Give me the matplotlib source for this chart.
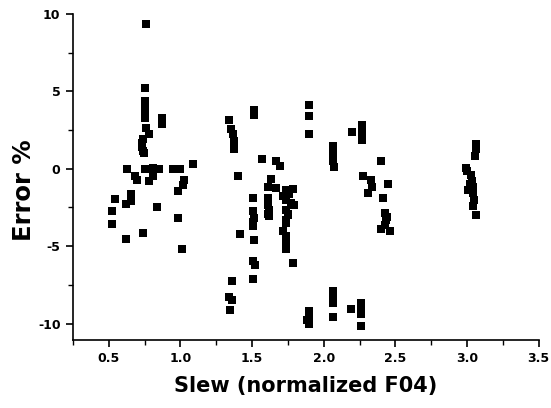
import matplotlib
matplotlib.use("Agg")
import matplotlib.pyplot as plt
from matplotlib.ticker import MultipleLocator

plt.rcParams['font.family'] = ['DejaVu Sans']

slew = [
    # ~0.5-1.1
    0.757, 0.75, 0.75, 0.75, 0.752, 0.752, 0.759, 0.78,
    0.74, 0.73, 0.735, 0.74, 0.745,
    0.870, 0.870,
    0.627, 0.755, 0.806, 0.847, 0.951, 0.998,
    1.09,
    0.68, 0.697, 0.778, 0.806, 1.028, 1.021, 0.986,
    0.655, 0.657, 0.623, 0.546, 0.521, 0.525, 0.836, 0.986, 0.741, 0.618, 1.009,
    # ~1.35
    1.341, 1.352, 1.364, 1.375, 1.375, 1.402, 1.416, 1.357, 1.341, 1.357, 1.345,
    # ~1.5
    1.511, 1.516, 1.507, 1.509, 1.511, 1.505, 1.505, 1.511, 1.507, 1.523, 1.509,
    # ~1.6
    1.568, 1.67, 1.693, 1.63, 1.614, 1.666, 1.614, 1.614, 1.62, 1.62, 1.61,
    # ~1.75
    1.739, 1.789, 1.716, 1.74, 1.77, 1.795, 1.74, 1.75, 1.74, 1.735, 1.716,
    1.734, 1.739, 1.739, 1.789, 1.76, 1.75,
    # ~1.9
    1.898, 1.898, 1.90, 1.898, 1.886, 1.90, 1.895,
    # ~2.06
    2.064, 2.064, 2.067, 2.067, 2.07, 2.064, 2.067, 2.064, 2.064, 2.066,
    # ~2.25
    2.194, 2.265, 2.265, 2.265, 2.265, 2.277, 2.33, 2.34, 2.308, 2.187,
    2.261, 2.261, 2.261, 2.262,
    # ~2.4
    2.40, 2.45, 2.412, 2.427, 2.437, 2.427, 2.40, 2.46, 2.44,
    # ~3.0
    3.06, 3.06, 3.055, 2.99, 3.0, 3.03, 3.035, 3.01, 3.045, 3.05, 3.045,
    3.06, 3.02, 3.04,
]

error_pct = [
    9.35, 5.20, 4.39, 3.85, 3.62, 3.27, 2.62, 2.24,
    1.91, 1.66, 1.40, 1.12, 1.0,
    3.27, 2.90,
    0.0, 0.0, 0.05, 0.0, 0.0, 0.0,
    0.32,
    -0.49, -0.71, -0.77, -0.45, -0.71, -1.03, -1.42,
    -1.61, -2.11, -2.26, -1.94, -2.75, -3.59, -2.49, -3.18, -4.15, -4.52, -5.20,
    3.12, 2.56, 2.26, 1.76, 1.27, -0.49, -4.19, -7.23, -8.28, -8.49, -9.14,
    3.81, 3.48, -1.89, -2.75, -3.18, -3.45, -3.72, -4.62, -5.98, -6.19, -7.12,
    0.65, 0.47, 0.19, -0.65, -1.18, -1.25, -1.89, -2.32, -2.65, -3.08, -2.9,
    -1.35, -1.31, -1.74, -2.0, -2.2, -2.32, -2.64, -2.9, -3.29, -3.5, -4.04,
    -4.37, -4.75, -5.18, -6.09, -1.6, -3.0,
    4.13, 3.42, 2.26, -9.20, -9.74, -10.02, -9.5,
    1.48, 1.12, 0.80, 0.47, 0.11, -7.91, -8.34, -8.67, -9.59, -8.1,
    2.37, 2.84, 2.52, 2.19, 1.87, -0.49, -0.75, -1.18, -1.57, -9.05,
    -8.67, -9.35, -10.13, -8.9,
    0.47, -0.97, -1.89, -2.86, -3.29, -3.61, -3.89, -4.04, -3.1,
    1.61, 1.27, 0.80, 0.04, -0.17, -0.39, -0.82, -1.35, -1.57, -2.0, -2.43,
    -2.97, -1.0, -1.2,
]

x_ticks = [0.5, 1.0, 1.5, 2.0, 2.5, 3.0, 3.5]
y_ticks = [-10, -5, 0, 5, 10]

fig = plt.figure(figsize=(5.51, 4.08), dpi=100)
ax = fig.add_axes([0.1325, 0.167, 0.845, 0.799])
ax.scatter(slew, error_pct, marker='s', s=28, color='black', linewidths=0)

ax.set_xlim(0.25, 3.5)
ax.set_ylim(-11.05, 10)
ax.set_xticks(x_ticks)
ax.set_xticklabels([f"{v:.1f}" for v in x_ticks])
ax.set_yticks(y_ticks)
ax.set_yticklabels([str(v) for v in y_ticks])
ax.xaxis.set_minor_locator(MultipleLocator(0.25))
ax.yaxis.set_minor_locator(MultipleLocator(2.5))

for s in ['top', 'right']:
    ax.spines[s].set_visible(False)
for s in ['left', 'bottom']:
    ax.spines[s].set_linewidth(1.2)

ax.tick_params(which='major', direction='out', length=5, width=1.2,
               labelsize=9, pad=4)
ax.tick_params(which='minor', direction='out', length=3.5, width=1.0)
for lab in ax.get_xticklabels() + ax.get_yticklabels():
    lab.set_fontweight('bold')

ax.set_xlabel('Slew (normalized F04)', fontsize=15, fontweight='bold',
              labelpad=8)
ax.set_ylabel('Error %', fontsize=17.5, fontweight='bold')
ax.yaxis.set_label_coords(-0.08, 0.46)

fig.savefig('out.png', dpi=100)
